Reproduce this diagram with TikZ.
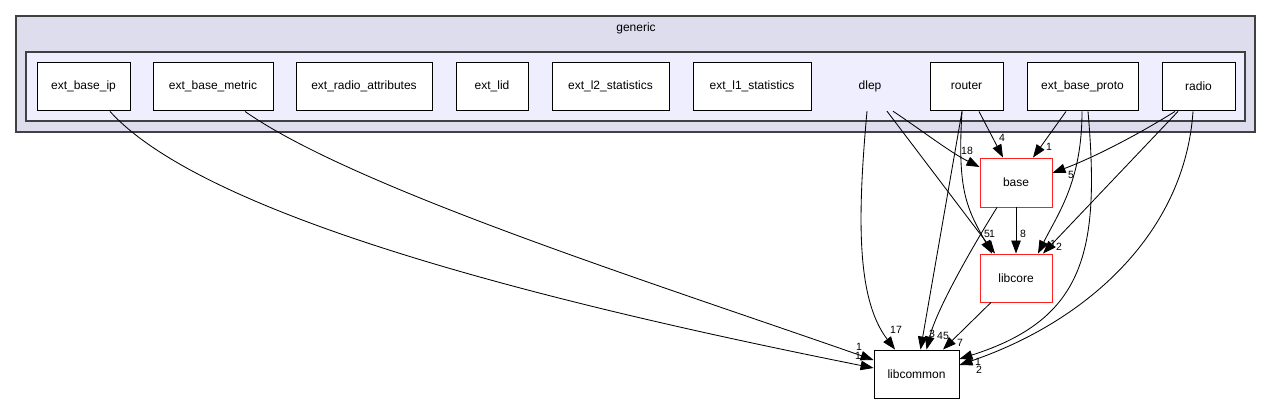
\documentclass[tikz,border=0pt]{standalone}
\usepackage{fontspec}
\setmainfont{Liberation Sans}
\usetikzlibrary{arrows.meta,calc}
\definecolor{outerfill}{HTML}{DDDDEE}
\definecolor{innerfill}{HTML}{EEEEFF}
\definecolor{clusterline}{HTML}{404040}
\definecolor{redline}{HTML}{FF2020}
\begin{document}
\begin{tikzpicture}[x=1pt,y=-1pt,
  box/.style={draw=black,fill=white,line width=0.9pt,minimum height=48pt,inner sep=0pt,font=\fontsize{12}{14}\selectfont},
  redbox/.style={box,draw=redline},
  plain/.style={minimum height=48pt,inner sep=0pt,font=\fontsize{12}{14}\selectfont},
  edge/.style={line width=0.85pt,-{Triangle[length=13pt,width=9.5pt]}},
  lab/.style={font=\fontsize{10.5}{12}\selectfont,inner sep=0pt},
  cluster/.style={draw=clusterline,line width=1.3pt}]
\fill[white] (0,0) rectangle (1272,404);
\useasboundingbox (0,0) rectangle (1272,404);
% clusters
\draw[cluster,fill=outerfill] (16,16) rectangle (1255,132);
\node[plain,minimum height=0pt] (generic) at (636,28) {generic};
\draw[cluster,fill=innerfill] (26,52) rectangle (1245,121);
% nodes
\node[box,minimum width=93pt] (ebip) at (83.5,86) {ext\_base\_ip};
\node[box,minimum width=120pt] (ebmetric) at (213,86) {ext\_base\_metric};
\node[box,minimum width=136pt] (eradio) at (364,86) {ext\_radio\_attributes};
\node[box,minimum width=72pt] (elid) at (492,86) {ext\_lid};
\node[box,minimum width=117pt] (el2) at (610.5,86) {ext\_l2\_statistics};
\node[box,minimum width=118pt] (el1) at (752,86) {ext\_l1\_statistics};
\node[plain,minimum width=60pt] (dlep) at (870,86) {dlep};
\node[box,minimum width=73pt] (router) at (966.5,86) {router};
\node[box,minimum width=111pt] (ebproto) at (1082.5,86) {ext\_base\_proto};
\node[box,minimum width=73pt] (radio) at (1198.5,86) {radio};
\node[redbox,minimum width=72pt,minimum height=49pt] (base) at (1016,182.5) {base};
\node[redbox,minimum width=72pt] (libcore) at (1016,278) {libcore};
\node[box,minimum width=85pt] (libcommon) at (916.5,374) {libcommon};
% edges
\draw[edge] ($(ebip.south)+(26.5,1)$) .. controls +(100,110) and +(-300,-60) .. ($(libcommon.west)+(0,-6)$);
\draw[edge] ($(ebmetric.south)+(32,1)$) .. controls +(110,77) and +(-220,-77) .. ($(libcommon.west)+(0,-14)$);
\draw[edge] ($(dlep.south)+(-3,1)$) .. controls +(-10,110) and +(-38,-50) .. ($(libcommon.north)+(-21.5,0)$);
\draw[edge] ($(dlep.south)+(23,1)$) .. controls +(30,20) and +(-30,-15) .. ($(base.west)+(0,-15.5)$);
\draw[edge] ($(dlep.south)+(17,1)$) -- ($(libcore.north)+(-21,0)$);
\draw[edge] ($(router.south)+(12.5,1)$) -- ($(base.north)+(-13,0)$);
\draw[edge] ($(router.south)+(-4.5,1)$) .. controls +(-5,80) and +(-25,-45) .. ($(libcore.north)+(-24,0)$);
\draw[edge] ($(router.south)+(-4.5,1)$) -- ($(libcommon.north)+(4,0)$);
\draw[edge] ($(base.south)+(-19,0)$) .. controls +(-25,40) and +(10,-40) .. ($(libcommon.north)+(10,0)$);
\draw[edge] (base.south) -- (libcore.north);
\draw[edge] ($(libcore.south)+(-25,0)$) -- ($(libcommon.north)+(26.5,0)$);
\draw[edge] ($(ebproto.south)+(-16.5,1)$) -- ($(base.north)+(17,0)$);
\draw[edge] ($(ebproto.south)+(-0.5,1)$) .. controls +(0,70) and +(20,-40) .. ($(libcore.north)+(22,0)$);
\draw[edge] ($(ebproto.south)+(5.5,1)$) .. controls +(12,139) and +(126,-40) .. ($(libcommon.east)+(0,-15)$);
\draw[edge] ($(radio.south)+(-23.5,1)$) .. controls +(-40,25) and +(40,-15) .. ($(base.east)+(0,-9.5)$);
\draw[edge] ($(radio.south)+(-20.5,1)$) -- ($(libcore.north)+(27,0)$);
\draw[edge] ($(radio.south)+(-5.5,1)$) .. controls +(-8,119) and +(131,-45) .. ($(libcommon.east)+(0,-9)$);
% labels
\node[lab] (l1) at (859,347) {1};
\node[lab] (l2) at (858,356) {1};
\node[lab] (l3) at (896,330) {17};
\node[lab] (l4) at (967,151) {18};
\node[lab] (l5) at (987,234) {5};
\node[lab] (l6) at (992,234) {1};
\node[lab] (l7) at (1002,138) {4};
\node[lab] (l8) at (932,334) {3};
\node[lab] (l9) at (943,336) {45};
\node[lab] (l10) at (1023,234) {8};
\node[lab] (l11) at (960,343) {7};
\node[lab] (l12) at (1049,147) {1};
\node[lab] (l13) at (1053,244) {1};
\node[lab] (l14) at (1059,247) {2};
\node[lab] (l15) at (1071,175) {5};
\node[lab] (l16) at (978,362) {1};
\node[lab] (l17) at (979,370) {2};
\end{tikzpicture}
\end{document}
